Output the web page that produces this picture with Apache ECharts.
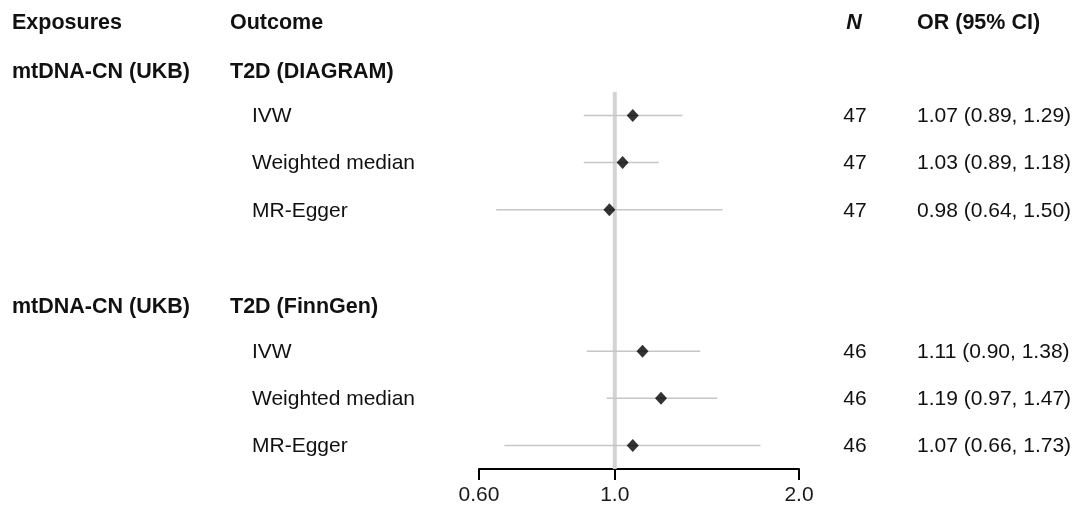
<!DOCTYPE html>
<html>
<head>
<meta charset="utf-8">
<script src="https://cdn.jsdelivr.net/npm/echarts@6/dist/echarts.min.js"></script>
<style>
  html, body { margin: 0; padding: 0; background: #fff; }
  #forest { width: 1077px; height: 507px; }
</style>
</head>
<body>
<div id="forest"></div>
<script type="text/javascript">

	// groups: exposure / outcome
	var exposures = ['mtDNA-CN (UKB)', 'mtDNA-CN (UKB)'];
	var outcomes = ['T2D (DIAGRAM)', 'T2D (FinnGen)'];
	var methods = ['IVW', 'Weighted median', 'MR-Egger'];

	// one entry per method row, group 1 then group 2
	var orValues = [1.07, 1.03, 0.98, 1.11, 1.19, 1.07];
	var ciLower = [0.89, 0.89, 0.64, 0.90, 0.97, 0.66];
	var ciUpper = [1.29, 1.18, 1.50, 1.38, 1.47, 1.73];
	var nSnps = [47, 47, 47, 46, 46, 46];

	var xTicks = [0.6, 1.0, 2.0];

	var FONT = '"Liberation Sans", Arial, Helvetica, sans-serif';

	// build row layout (row index on the y axis)
	var titleRows = [];
	var estRows = [];
	var row = 1;
	for (var g = 0; g < exposures.length; g++) {
		titleRows.push({ row: row + 0.05, exposure: exposures[g], outcome: outcomes[g] });
		row++;
		for (var m = 0; m < methods.length; m++) {
			var k = g * methods.length + m;
			estRows.push({
				row: row, method: methods[m], or: orValues[k],
				lo: ciLower[k], hi: ciUpper[k], n: nSnps[k]
			});
			row++;
		}
		row++; // blank row between groups
	}

	function fmt(v) { return v.toFixed(2); }

	var tableData = [];
	tableData.push([1, 0.02, 'header']);
	titleRows.forEach(function (t, i) { tableData.push([1, t.row, 'title', i]); });
	estRows.forEach(function (e, i) { tableData.push([1, e.row, 'est', i]); });

	var chart = echarts.init(document.getElementById('forest'));
	chart.setOption({
		animation: false,
		backgroundColor: '#fff',
		grid: { left: 479, right: 278, top: 0, bottom: 38 },
		xAxis: {
			type: 'log',
			logBase: 10,
			min: 0.6,
			max: 2.0,
			splitLine: { show: false },
			axisLine: { show: true, onZero: false, lineStyle: { color: '#000', width: 2 } },
			axisTick: { show: true, length: 11, customValues: xTicks, lineStyle: { color: '#000', width: 2 } },
			axisLabel: {
				customValues: xTicks,
				margin: 16,
				color: '#1a1a1a',
				fontFamily: FONT,
				fontSize: 21,
				formatter: function (v) { return v < 0.7 ? '0.60' : Number(v).toFixed(1); }
			}
		},
		yAxis: {
			type: 'value',
			inverse: true,
			min: -0.45,
			max: 9.5,
			show: false
		},
		series: [
			{
				// reference line at OR = 1
				type: 'line',
				data: [[1, 1.5], [1, 9.5]],
				symbol: 'none',
				lineStyle: { color: '#d3d3d3', width: 4 },
				z: 1
			},
			{
				// confidence intervals
				type: 'custom',
				data: estRows.map(function (e) { return [e.lo, e.hi, e.row]; }),
				renderItem: function (params, api) {
					var p1 = api.coord([api.value(0), api.value(2)]);
					var p2 = api.coord([api.value(1), api.value(2)]);
					return {
						type: 'line',
						shape: { x1: p1[0], y1: p1[1], x2: p2[0], y2: p2[1] },
						style: { stroke: '#c6c6c6', lineWidth: 1.5 }
					};
				},
				z: 2
			},
			{
				type: 'scatter',
				data: estRows.map(function (e) { return [e.or, e.row]; }),
				symbol: 'diamond',
				symbolSize: [12, 13],
				itemStyle: { color: '#000' },
				z: 3
			},
			{
				// text table
				type: 'custom',
				clip: false,
				silent: true,
				data: tableData,
				renderItem: function (params, api) {
					var y = api.coord([1, api.value(1)])[1] + 1;
					var kind = tableData[params.dataIndex][2];
					var idx = tableData[params.dataIndex][3];
					var base = { fontFamily: FONT, fontSize: 21, fill: '#111', textVerticalAlign: 'middle' };
					function txt(x, s, extra) {
						var st = Object.assign({}, base, { x: x, y: y, text: s }, extra || {});
						return { type: 'text', style: st };
					}
					var kids = [];
					if (kind === 'header') {
						kids.push(txt(12, 'Exposures', { fontWeight: 'bold', fontSize: 21.5 }));
						kids.push(txt(230, 'Outcome', { fontWeight: 'bold', fontSize: 21.5 }));
						kids.push(txt(854, 'N', { fontWeight: 'bold', fontStyle: 'italic', textAlign: 'center', fontSize: 21.5 }));
						kids.push(txt(917, 'OR (95% CI)', { fontWeight: 'bold', fontSize: 21.5 }));
					} else if (kind === 'title') {
						var t = titleRows[idx];
						kids.push(txt(12, t.exposure, { fontWeight: 'bold', fontSize: 21.5 }));
						kids.push(txt(230, t.outcome, { fontWeight: 'bold', fontSize: 21.5 }));
					} else {
						var e = estRows[idx];
						kids.push(txt(252, e.method));
						kids.push(txt(855, String(e.n), { textAlign: 'center' }));
						kids.push(txt(917, fmt(e.or) + ' (' + fmt(e.lo) + ', ' + fmt(e.hi) + ')'));
					}
					return { type: 'group', children: kids };
				},
				z: 4
			}
		]
	});
</script>
</body>
</html>
